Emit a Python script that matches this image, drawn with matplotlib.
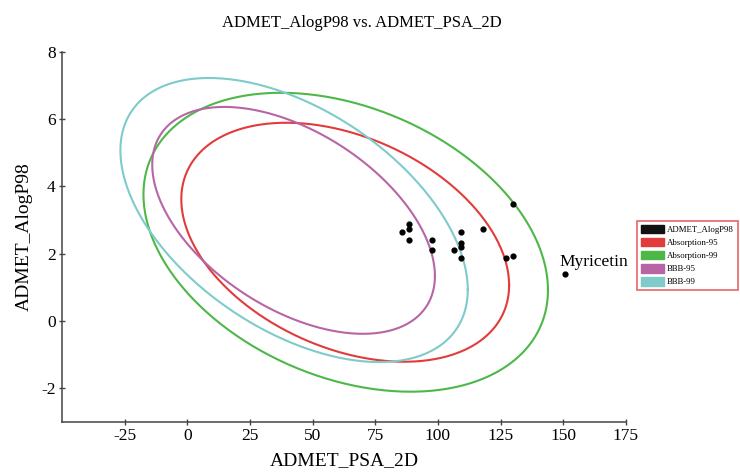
import matplotlib.pyplot as plt
import numpy as np
from matplotlib.patches import Patch

plt.rcParams['font.family'] = ['Liberation Serif', 'DejaVu Serif']
plt.rcParams['axes.unicode_minus'] = False

# compound points (PSA_2D, AlogP98)
psa = [130.1, 88.5, 88.6, 85.6, 88.6, 97.5, 97.5, 109.2, 109.2, 109.2,
       106.4, 109.2, 118.1, 127.1, 130.1, 150.7]
alogp = [3.49, 2.89, 2.74, 2.64, 2.42, 2.41, 2.11, 2.65, 2.31, 2.21,
         2.10, 1.87, 2.74, 1.86, 1.93, 1.39]

# confidence ellipses
ell_names = ['Absorption-95', 'Absorption-99', 'BBB-95', 'BBB-99']
ell_cx = [63.0, 63.2, 42.4, 42.6]
ell_cy = [2.34, 2.34, 2.99, 3.00]
ell_ax = [65.4, 80.7, 56.4, 69.3]   # half extent along PSA
ell_ay = [3.55, 4.44, 3.37, 4.22]   # half extent along AlogP
ell_cos = [-0.36, -0.32, -0.49, -0.49]
ell_colors = ['#e23b3b', '#4db848', '#b865a6', '#7fcbcc']

fig = plt.figure(figsize=(7.4, 4.75), dpi=100)
ax = fig.add_axes([0.0838, 0.1116, 0.762, 0.7795])

t = np.linspace(0, 2 * np.pi, 400)
for i in range(len(ell_names)):
    phi = np.arccos(ell_cos[i])
    ex = ell_cx[i] + ell_ax[i] * np.cos(t)
    ey = ell_cy[i] + ell_ay[i] * np.cos(t - phi)
    ax.plot(ex, ey, color=ell_colors[i], lw=1.5, zorder=2)

ax.scatter(psa, alogp, s=12, color='black', zorder=3)
ax.text(148.5, 1.52, 'Myricetin', fontsize=12.5, ha='left', va='bottom')

ax.set_xlim(-50, 175)
ax.set_ylim(-3, 8)
ax.set_xticks([-25, 0, 25, 50, 75, 100, 125, 150, 175])
ax.set_yticks([-2, 0, 2, 4, 6, 8])

for s in ['top', 'right']:
    ax.spines[s].set_visible(False)
for s in ['left', 'bottom']:
    ax.spines[s].set_color('#444444')
    ax.spines[s].set_linewidth(1.1)
ax.tick_params(direction='inout', length=5, width=1, color='#444444',
               labelsize=12.5, pad=2)

ax.set_xlabel('ADMET_PSA_2D', fontsize=14, labelpad=6)
ax.set_ylabel('ADMET_AlogP98', fontsize=14, labelpad=6)
fig.text(0.489, 0.951, 'ADMET_AlogP98 vs. ADMET_PSA_2D', fontsize=12,
         ha='center', va='center')

handles = [Patch(facecolor='#111111', edgecolor='#111111', label='ADMET_AlogP98')]
for i in range(len(ell_names)):
    handles.append(Patch(facecolor=ell_colors[i], edgecolor=ell_colors[i],
                         label=ell_names[i]))
leg = fig.legend(handles=handles, loc='upper left', bbox_to_anchor=(0.861, 0.535),
                 fontsize=6.3, frameon=True, fancybox=False, handlelength=2.6,
                 handleheight=1.1, labelspacing=0.45, handletextpad=0.35,
                 borderpad=0.45, borderaxespad=0)
leg.get_frame().set_edgecolor('#e04040')
leg.get_frame().set_linewidth(1.2)

fig.savefig('out.png', dpi=100)
